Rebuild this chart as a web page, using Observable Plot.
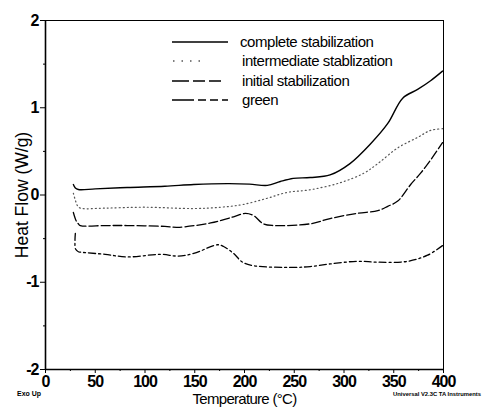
<!DOCTYPE html>
<html>
<head>
<meta charset="utf-8">
<script src="https://cdn.jsdelivr.net/npm/d3@7"></script>
<script src="https://cdn.jsdelivr.net/npm/@observablehq/plot@0.6"></script>
<style>
  html, body { margin: 0; padding: 0; background: #fff; }
  #chart svg { display: block; }
</style>
</head>
<body>
<div id="chart"></div>
<script>
// ---- data ----
const xTicks = [0, 50, 100, 150, 200, 250, 300, 350, 400];
const xMinorTicks = [25, 75, 125, 175, 225, 275, 325, 375];
const yTicks = [-2, -1, 0, 1, 2];
const yMinorTicks = [-1.5, -0.5, 0.5, 1.5];

const seriesNames = ["complete stabilization", "intermediate stablization", "initial stabilization", "green"];

const completeT  = [28, 30, 33, 50, 82, 120, 149, 183, 205, 223, 236, 249, 266, 286, 306, 327, 344, 359, 374, 387, 399];
const completeHF = [0.12, 0.08, 0.063, 0.07, 0.086, 0.10, 0.12, 0.13, 0.125, 0.11, 0.155, 0.19, 0.20, 0.23, 0.36, 0.59, 0.82, 1.11, 1.21, 1.31, 1.42];

const intermediateT  = [28, 30, 32, 35, 60, 100, 149, 176, 198, 222, 243, 266, 296, 320, 334, 354, 374, 387, 399];
const intermediateHF = [0.02, -0.06, -0.12, -0.15, -0.15, -0.14, -0.155, -0.14, -0.11, -0.04, 0.03, 0.06, 0.14, 0.25, 0.36, 0.54, 0.66, 0.74, 0.76];

const initialT  = [28, 31, 33, 35, 60, 82, 120, 133, 166, 189, 201, 209, 219, 229, 266, 286, 313, 334, 344, 354, 367, 377, 387, 399];
const initialHF = [-0.20, -0.30, -0.33, -0.35, -0.35, -0.35, -0.36, -0.37, -0.32, -0.25, -0.21, -0.235, -0.33, -0.35, -0.33, -0.27, -0.21, -0.18, -0.13, -0.07, 0.12, 0.25, 0.40, 0.60];

const greenT  = [30, 30.2, 33, 35, 60, 82, 116, 133, 149, 173, 179, 189, 198, 209, 249, 266, 286, 313, 334, 364, 384, 399];
const greenHF = [-0.44, -0.62, -0.65, -0.655, -0.68, -0.71, -0.68, -0.70, -0.67, -0.57, -0.59, -0.67, -0.77, -0.81, -0.83, -0.82, -0.79, -0.76, -0.77, -0.76, -0.69, -0.58];

// ---- styles ----
const styles = [
  {stroke: "#000", strokeWidth: 1.4, dash: null},
  {stroke: "#555", strokeWidth: 1.2, dash: "1,3"},
  {stroke: "#000", strokeWidth: 1.3, dash: "9,3"},
  {stroke: "#000", strokeWidth: 1.3, dash: "7,3,2,3"}
];

const toRows = (T, HF) => T.map((t, i) => ({t, hf: HF[i]}));
const series = [
  toRows(completeT, completeHF),
  toRows(intermediateT, intermediateHF),
  toRows(initialT, initialHF),
  toRows(greenT, greenHF)
];

const W = 485, H = 407;
const plot = Plot.plot({
  width: W, height: H,
  marginLeft: 45, marginRight: 42, marginTop: 20, marginBottom: 38,
  x: {domain: [0, 400]},
  y: {domain: [-2, 2]},
  style: {background: "#fff", color: "#000", fontFamily: "Arial, 'Liberation Sans', sans-serif"},
  marks: [
    Plot.frame({stroke: "#000", strokeWidth: 1}),
    Plot.axisX({ticks: xMinorTicks, tickSize: 2, tickFormat: () => "", label: null}),
    Plot.axisY({ticks: yMinorTicks, tickSize: 2, tickFormat: () => "", label: null}),
    Plot.axisX({ticks: xTicks, tickSize: 4, tickPadding: 2, tickFormat: d => String(d),
      fontSize: 16, fontWeight: "bold",
      label: null}),
    Plot.axisY({ticks: yTicks, tickSize: 5, tickPadding: 2, tickFormat: d => String(d),
      fontSize: 16, fontWeight: "bold",
      label: null}),
    Plot.axisX({ticks: [], tickSize: 0, label: "Temperature (°C)", labelAnchor: "center", labelOffset: 34, labelArrow: "none", fontSize: 15}),
    Plot.axisY({ticks: [], tickSize: 0, label: "Heat Flow (W/g)", labelAnchor: "center", labelOffset: 30, labelArrow: "none", fontSize: 17.5}),
    Plot.ruleX([0], {strokeWidth: 1.6}),
    Plot.ruleY([-2], {strokeWidth: 1.6}),
    ...series.map((rows, i) => Plot.line(rows, {
      x: "t", y: "hf", curve: "catmull-rom",
      stroke: styles[i].stroke, strokeWidth: styles[i].strokeWidth,
      strokeDasharray: styles[i].dash
    }))
  ]
});
document.getElementById("chart").appendChild(plot);

const svg = d3.select(plot);
// tighten label spacing to match the condensed instrument font
svg.selectAll('g[aria-label="x-axis tick label"] text, g[aria-label="y-axis tick label"] text')
  .attr("letter-spacing", "-1px");
svg.selectAll('g[aria-label="x-axis label"] text').attr("letter-spacing", "-0.7px");

// ---- in-plot legend and instrument annotations ----
const legendY = [42, 61, 81, 100];
const legendLineX = [[172, 228], [173, 200], [172, 228], [172, 228]];
const legendTextX = [240, 242, 242, 242];
const legendDash = [null, "1.5,7", "17,4,12,4,12", "22,4,8,4,8,4"];
const lg = svg.append("g").attr("aria-label", "legend").attr("text-anchor", "start");
seriesNames.forEach((name, i) => {
  lg.append("line")
    .attr("x1", legendLineX[i][0]).attr("x2", legendLineX[i][1])
    .attr("y1", legendY[i]).attr("y2", legendY[i])
    .attr("stroke", styles[i].stroke).attr("stroke-width", styles[i].strokeWidth + 0.2)
    .attr("stroke-dasharray", legendDash[i]);
  lg.append("text")
    .attr("x", legendTextX[i]).attr("y", legendY[i]).attr("dy", "0.35em")
    .attr("text-anchor", "start")
    .attr("font-size", 15).attr("letter-spacing", "-0.45px")
    .attr("fill", "#000")
    .text(name);
});
svg.append("text").attr("x", 17).attr("y", 396).attr("text-anchor", "start")
  .attr("font-size", 7).attr("font-weight", "bold").attr("fill", "#000").text("Exo Up");
svg.append("text").attr("x", 393).attr("y", 396).attr("text-anchor", "start")
  .attr("font-size", 5).attr("font-weight", "bold").attr("fill", "#000")
  .attr("textLength", 88).attr("lengthAdjust", "spacingAndGlyphs")
  .text("Universal V2.3C TA Instruments");
</script>
</body>
</html>
